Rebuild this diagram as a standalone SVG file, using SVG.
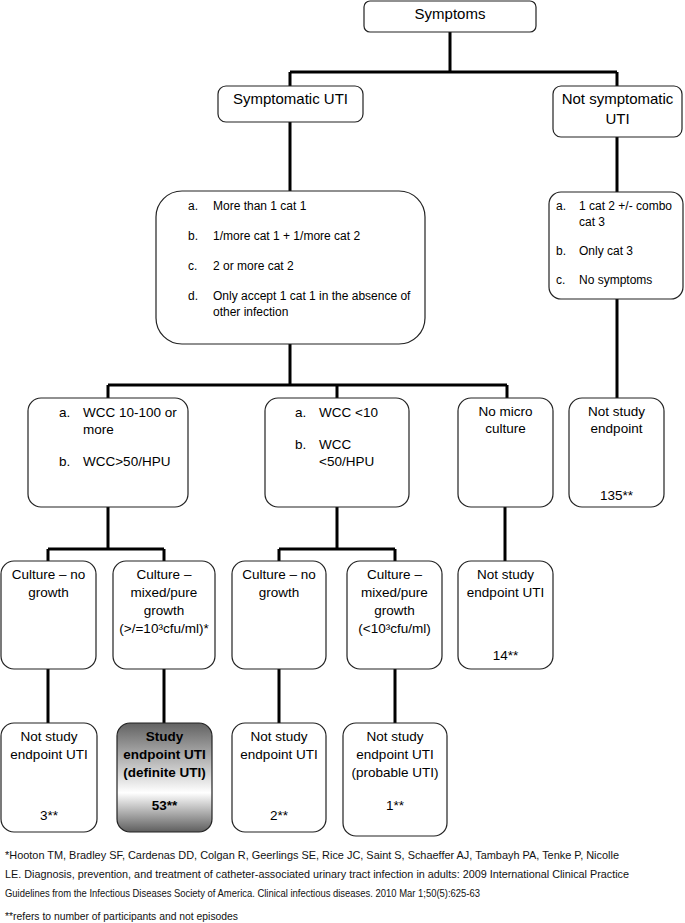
<svg xmlns="http://www.w3.org/2000/svg" width="685" height="923" viewBox="0 0 685 923">
<style>
.box{fill:#fff;stroke:#222;stroke-width:1.2}
.con{fill:none;stroke:#000;stroke-width:3}
text{font-family:"Liberation Sans",Arial,sans-serif;fill:#000}
.t15{font-size:15px}
.t12{font-size:12px}
.t13{font-size:13.5px}
.c{text-anchor:middle}
.b{font-weight:bold}
.fn{font-size:10.5px;fill:#111}
</style>
<defs>
<linearGradient id="g" x1="0" y1="0" x2="0" y2="1">
<stop offset="0" stop-color="#626262"/>
<stop offset="0.64" stop-color="#ffffff"/>
<stop offset="1" stop-color="#5e5e5e"/>
</linearGradient>
</defs>
<rect width="685" height="923" fill="#fff"/>
<g id="connectors">
<path class="con" d="M450 32V72M290 72H617M290 72V86M617 72V86"/>
<path class="con" d="M290 122V191M617 137V192"/>
<path class="con" d="M290 344V385M108 385H507M108 385V398M337 385V398M507 385V398M617 299V398"/>
<path class="con" d="M108 507V549M48 549H164M48 549V561M164 549V561"/>
<path class="con" d="M337 507V549M279 549H395M279 549V561M395 549V561"/>
<path class="con" d="M505 507V561"/>
<path class="con" d="M48 669V723M164 669V723M279 669V723M395 669V723"/>
</g>
<g id="symptoms">
<rect class="box" x="364" y="1" width="172" height="31" rx="6"/>
<text class="t15 c" x="450" y="19">Symptoms</text>
</g>
<g id="symptomatic">
<rect class="box" x="218" y="86" width="145" height="36" rx="8"/>
<text class="t15 c" x="290.5" y="104">Symptomatic UTI</text>
</g>
<g id="not-symptomatic">
<rect class="box" x="553" y="86" width="129" height="51" rx="8"/>
<text class="t15 c" x="617.5" y="104">Not symptomatic</text>
<text class="t15 c" x="617.5" y="124">UTI</text>
</g>
<g id="criteria">
<rect class="box" x="156" y="191" width="269" height="153" rx="26"/>
<text class="t12" x="188" y="210">a.</text><text class="t12" x="213" y="210">More than 1 cat 1</text>
<text class="t12" x="188" y="240">b.</text><text class="t12" x="213" y="240">1/more cat 1 + 1/more cat 2</text>
<text class="t12" x="188" y="270">c.</text><text class="t12" x="213" y="270">2 or more cat 2</text>
<text class="t12" x="188" y="300">d.</text><text class="t12" x="213" y="300">Only accept 1 cat 1 in the absence of</text>
<text class="t12" x="213" y="316">other infection</text>
</g>
<g id="non-criteria">
<rect class="box" x="549" y="192" width="134" height="107" rx="12"/>
<text class="t12" x="556" y="210">a.</text><text class="t12" x="579" y="210">1 cat 2 +/- combo</text>
<text class="t12" x="579" y="226">cat 3</text>
<text class="t12" x="556" y="255">b.</text><text class="t12" x="579" y="255">Only cat 3</text>
<text class="t12" x="556" y="284">c.</text><text class="t12" x="579" y="284">No symptoms</text>
</g>
<g id="wcc-high">
<rect class="box" x="28" y="398" width="160" height="109" rx="13"/>
<text class="t13" x="59" y="417">a.</text><text class="t13" x="83" y="417">WCC 10-100 or</text>
<text class="t13" x="83" y="434">more</text>
<text class="t13" x="59" y="466">b.</text><text class="t13" x="83" y="466">WCC&gt;50/HPU</text>
</g>
<g id="wcc-low">
<rect class="box" x="265" y="398" width="144" height="109" rx="13"/>
<text class="t13" x="295" y="417">a.</text><text class="t13" x="319" y="417">WCC &lt;10</text>
<text class="t13" x="295" y="449">b.</text><text class="t13" x="319" y="449">WCC</text>
<text class="t13" x="319" y="466">&lt;50/HPU</text>
</g>
<g id="no-micro">
<rect class="box" x="458" y="398" width="95" height="109" rx="13"/>
<text class="t13 c" x="505.5" y="416">No micro</text>
<text class="t13 c" x="505.5" y="433">culture</text>
</g>
<g id="not-study-135">
<rect class="box" x="569" y="398" width="95" height="109" rx="13"/>
<text class="t13 c" x="616.5" y="416">Not study</text>
<text class="t13 c" x="616.5" y="433">endpoint</text>
<text class="t13 c" x="616.5" y="500">135**</text>
</g>
<g id="culture-no-growth-1">
<rect class="box" x="1" y="561" width="95" height="108" rx="13"/>
<text class="t13 c" x="48.5" y="579">Culture – no</text>
<text class="t13 c" x="48.5" y="597">growth</text>
</g>
<g id="culture-growth-1">
<rect class="box" x="113" y="561" width="102" height="108" rx="13"/>
<text class="t13 c" x="164" y="579">Culture –</text>
<text class="t13 c" x="164" y="597">mixed/pure</text>
<text class="t13 c" x="164" y="615">growth</text>
<text class="t13 c" x="164" y="633">(&gt;/=10³cfu/ml)*</text>
</g>
<g id="culture-no-growth-2">
<rect class="box" x="232" y="561" width="94" height="108" rx="13"/>
<text class="t13 c" x="279" y="579">Culture – no</text>
<text class="t13 c" x="279" y="597">growth</text>
</g>
<g id="culture-growth-2">
<rect class="box" x="347" y="561" width="95" height="108" rx="13"/>
<text class="t13 c" x="394.5" y="579">Culture –</text>
<text class="t13 c" x="394.5" y="597">mixed/pure</text>
<text class="t13 c" x="394.5" y="615">growth</text>
<text class="t13 c" x="394.5" y="633">(&lt;10³cfu/ml)</text>
</g>
<g id="not-study-14">
<rect class="box" x="458" y="561" width="95" height="108" rx="13"/>
<text class="t13 c" x="505.5" y="579">Not study</text>
<text class="t13 c" x="505.5" y="597">endpoint UTI</text>
<text class="t13 c" x="505.5" y="660">14**</text>
</g>
<g id="not-study-3">
<rect class="box" x="1" y="723" width="96" height="109" rx="13"/>
<text class="t13 c" x="49" y="741">Not study</text>
<text class="t13 c" x="49" y="759">endpoint UTI</text>
<text class="t13 c" x="49" y="820">3**</text>
</g>
<g id="study-endpoint">
<rect x="117" y="723" width="95" height="109" rx="13" fill="url(#g)" stroke="#222" stroke-width="1.2"/>
<text class="t13 c b" x="164.5" y="741">Study</text>
<text class="t13 c b" x="164.5" y="759">endpoint UTI</text>
<text class="t13 c b" x="164.5" y="777">(definite UTI)</text>
<text class="t13 c b" x="164.5" y="810">53**</text>
</g>
<g id="not-study-2">
<rect class="box" x="232" y="723" width="94" height="109" rx="13"/>
<text class="t13 c" x="279" y="741">Not study</text>
<text class="t13 c" x="279" y="759">endpoint UTI</text>
<text class="t13 c" x="279" y="820">2**</text>
</g>
<g id="not-study-1">
<rect class="box" x="343" y="723" width="104" height="113" rx="13"/>
<text class="t13 c" x="395" y="741">Not study</text>
<text class="t13 c" x="395" y="759">endpoint UTI</text>
<text class="t13 c" x="395" y="777">(probable UTI)</text>
<text class="t13 c" x="395" y="810">1**</text>
</g>
<g id="footnotes">
<text class="fn" x="5" y="859" textLength="614" lengthAdjust="spacingAndGlyphs">*Hooton TM, Bradley SF, Cardenas DD, Colgan R, Geerlings SE, Rice JC, Saint S, Schaeffer AJ, Tambayh PA, Tenke P, Nicolle</text>
<text class="fn" x="5" y="878" textLength="624" lengthAdjust="spacingAndGlyphs">LE. Diagnosis, prevention, and treatment of catheter-associated urinary tract infection in adults: 2009 International Clinical Practice</text>
<text class="fn" x="5" y="897" textLength="475" lengthAdjust="spacingAndGlyphs">Guidelines from the Infectious Diseases Society of America. Clinical infectious diseases. 2010 Mar 1;50(5):625-63</text>
<text class="fn" x="5" y="920" textLength="233" lengthAdjust="spacingAndGlyphs">**refers to number of participants and not episodes</text>
</g>
</svg>
